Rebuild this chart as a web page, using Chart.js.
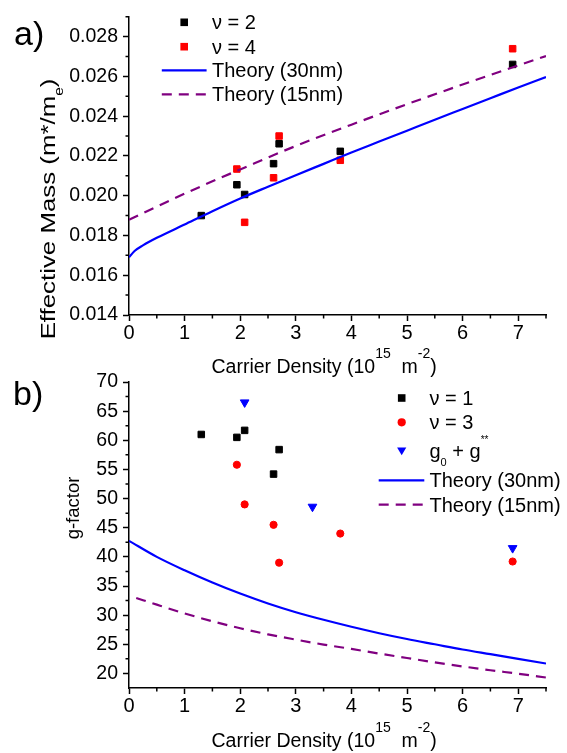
<!doctype html>
<html>
<head>
<meta charset="utf-8">
<style>
* {
    box-sizing: border-box;
    margin: 0;
    padding: 0;
}
body {
    width: 567px;
    height: 753px;
    background: #fff;
    position: relative;
    overflow: hidden;
}
canvas {
    position: absolute;
    left: 0;
}
#chart_a { top: 0; }
#chart_b { top: 365px; }
</style>
</head>
<body>
<canvas id="chart_a" width="567" height="385"></canvas>
<canvas id="chart_b" width="567" height="388"></canvas>
<script src="https://cdn.jsdelivr.net/npm/chart.js"></script>
<script>

// axis ticks
let x_ticks = [0, 1, 2, 3, 4, 5, 6, 7]
let x_minor = [0.5, 1.5, 2.5, 3.5, 4.5, 5.5, 6.5, 7.5]
let mass_ticks = [0.014, 0.016, 0.018, 0.020, 0.022, 0.024, 0.026, 0.028]
let mass_minor = [0.015, 0.017, 0.019, 0.021, 0.023, 0.025, 0.027, 0.029]
let g_ticks = [20, 25, 30, 35, 40, 45, 50, 55, 60, 65, 70]
let g_minor = [22.5, 27.5, 32.5, 37.5, 42.5, 47.5, 52.5, 57.5, 62.5, 67.5]

// a) effective mass
let density_nu2 = [1.3, 1.94, 2.08, 2.6, 2.7, 3.8, 6.9]
let mass_nu2 = [0.0190, 0.02055, 0.02006, 0.02161, 0.02261, 0.02223, 0.0266]
let density_nu4 = [1.94, 2.08, 2.6, 2.7, 3.8, 6.9]
let mass_nu4 = [0.02134, 0.01866, 0.0209, 0.0230, 0.02178, 0.02739]
let density_mass30 = [0, 0.1, 0.25, 0.5, 1, 1.5, 2, 2.5, 3, 3.5, 4, 4.5, 5, 5.5, 6, 6.5, 7, 7.5]
let mass_theory30 = [0.0169, 0.01722, 0.0175, 0.01788, 0.01855, 0.01922, 0.01986, 0.02045, 0.02103, 0.0216, 0.02217, 0.02272, 0.02327, 0.02382, 0.02436, 0.0249, 0.02544, 0.02597]
let density_mass15 = [0, 0.5, 1, 1.5, 2, 3, 4, 5, 6, 7, 7.5]
let mass_theory15 = [0.01879, 0.01945, 0.0201, 0.02072, 0.02132, 0.0225, 0.02357, 0.0246, 0.02559, 0.02655, 0.02702]

// b) g-factor
let density_nu1 = [1.3, 1.94, 2.08, 2.6, 2.7]
let g_nu1 = [61.0, 60.5, 61.7, 54.2, 58.4]
let density_nu3 = [1.94, 2.08, 2.6, 2.7, 3.8, 6.9]
let g_nu3 = [55.8, 49.0, 45.5, 39.0, 44.0, 39.2]
let density_g0 = [2.08, 3.3, 6.9]
let g_g0 = [66.5, 48.6, 41.5]
let density_g30 = [0, 0.5, 1, 1.5, 2, 2.5, 3, 3.5, 4, 4.5, 5, 5.5, 6, 6.5, 7, 7.5]
let g_theory30 = [42.75, 40.0, 37.7, 35.6, 33.7, 32.0, 30.5, 29.2, 28.0, 26.9, 25.9, 25.0, 24.1, 23.3, 22.5, 21.7]
let density_g15 = [0.13, 0.5, 1, 1.5, 2, 2.5, 3, 3.5, 4, 4.5, 5, 5.5, 6, 6.5, 7, 7.5]
let g_theory15 = [32.95, 31.8, 30.3, 28.95, 27.75, 26.7, 25.8, 24.95, 24.2, 23.4, 22.65, 21.9, 21.2, 20.55, 19.95, 19.3]

let family = 'Arial, "Liberation Sans", sans-serif'
Chart.defaults.font.family = family
Chart.defaults.color = '#000'

let pairs = (xs, ys) => xs.map((x, i) => ({ x: x, y: ys[i] }))

function points(label, xs, ys, style, color, radius) {
    return {
        label: label,
        data: pairs(xs, ys),
        pointStyle: style,
        pointRadius: radius,
        pointRotation: style === 'triangle' ? 180 : 0,
        backgroundColor: color,
        borderColor: color,
        borderWidth: 1,
        showLine: false,
        order: 1,
    }
}

function theory(label, xs, ys, color, dash) {
    return {
        label: label,
        data: pairs(xs, ys),
        showLine: true,
        borderColor: color,
        backgroundColor: color,
        borderWidth: 2.2,
        borderDash: dash,
        pointRadius: 0,
        cubicInterpolationMode: 'monotone',
        order: 0,
    }
}

function drawRich(ctx, parts, x, y, size, align) {
    let sizes = parts.map(p => p[2] ? size * p[2] : p[1] ? size * 0.72 : size)
    let widths = parts.map((p, i) => {
        ctx.font = sizes[i] + 'px ' + family
        return ctx.measureText(p[0]).width
    })
    let total = widths.reduce((a, b) => a + b, 0)
    let cx = align === 'center' ? x - total / 2 : x
    parts.forEach((p, i) => {
        ctx.font = sizes[i] + 'px ' + family
        let dy = p[1] === 'sup' ? -0.75 * size : p[1] === 'sub' ? 0.4 * size : 0
        ctx.fillText(p[0], cx, y + dy)
        cx += widths[i]
    })
}

function drawMarker(ctx, style, color, x, y) {
    ctx.fillStyle = color
    ctx.beginPath()
    if (style === 'rect') {
        ctx.rect(x - 3.8, y - 3.8, 7.6, 7.6)
    } else if (style === 'circle') {
        ctx.arc(x, y, 4.1, 0, Math.PI * 2)
    } else {
        ctx.moveTo(x - 4.6, y - 3.4)
        ctx.lineTo(x + 4.6, y - 3.4)
        ctx.lineTo(x, y + 4.2)
        ctx.closePath()
    }
    ctx.fill()
}

function makeDecor(cfg) {
    return {
        id: 'decor',
        afterDraw(chart) {
            let ctx = chart.ctx
            let sx = chart.scales.x
            let sy = chart.scales.y
            let area = chart.chartArea
            ctx.save()
            ctx.strokeStyle = '#000'
            ctx.lineWidth = 1.5
            ctx.beginPath()
            cfg.xMinor.forEach(v => {
                let px = sx.getPixelForValue(v)
                ctx.moveTo(px, area.bottom)
                ctx.lineTo(px, area.bottom + 3.5)
            })
            cfg.yMinor.forEach(v => {
                let py = sy.getPixelForValue(v)
                ctx.moveTo(area.left, py)
                ctx.lineTo(area.left - 3.5, py)
            })
            ctx.stroke()

            ctx.fillStyle = '#000'
            ctx.textAlign = 'left'
            ctx.textBaseline = 'alphabetic'
            drawRich(ctx, cfg.xTitle, cfg.xTitleX, cfg.xTitleY, 19.5)

            ctx.save()
            ctx.translate(cfg.yTitleX, cfg.yTitleY)
            ctx.rotate(-Math.PI / 2)
            ctx.scale(cfg.yTitleStretch, 1)
            drawRich(ctx, cfg.yTitle, 0, 0, cfg.yTitleSize, 'center')
            ctx.restore()

            ctx.font = '34px ' + family
            ctx.fillText(cfg.panel, cfg.panelX, cfg.panelY)

            chart.data.datasets.forEach((ds, i) => {
                let ry = cfg.legendRows[i]
                if (ds.showLine) {
                    ctx.save()
                    ctx.strokeStyle = ds.borderColor
                    ctx.lineWidth = ds.borderWidth
                    ctx.setLineDash(ds.borderDash || [])
                    ctx.beginPath()
                    ctx.moveTo(cfg.legendLine[0], ry)
                    ctx.lineTo(cfg.legendLine[1], ry)
                    ctx.stroke()
                    ctx.restore()
                } else {
                    drawMarker(ctx, ds.pointStyle, ds.backgroundColor, cfg.legendMarker, ry)
                }
                ctx.fillStyle = '#000'
                drawRich(ctx, ds.richLabel || [[ds.label]], cfg.legendText, ry + 7, 20)
            })
            ctx.restore()
        },
    }
}

function makeOptions(yMin, yMax, yTicks, yFormat, top, xHeight) {
    let axis = {
        border: { color: '#000', width: 1.5 },
        grid: { drawOnChartArea: false, tickLength: 6, tickWidth: 1.5, tickColor: '#000' },
    }
    return {
        responsive: false,
        animation: false,
        layout: { padding: { top: top, right: 21, left: 0, bottom: 0 } },
        scales: {
            x: {
                ...axis,
                type: 'linear',
                min: 0,
                max: 7.5,
                ticks: { font: { size: 20 }, padding: 0, autoSkip: false, maxRotation: 0 },
                afterBuildTicks: s => { s.ticks = x_ticks.map(v => ({ value: v })) },
                afterFit: s => { s.height = xHeight },
            },
            y: {
                ...axis,
                type: 'linear',
                min: yMin,
                max: yMax,
                ticks: { font: { size: 19.5 }, padding: 5, autoSkip: false, callback: yFormat },
                afterBuildTicks: s => { s.ticks = yTicks.map(v => ({ value: v })) },
                afterFit: s => { s.width = 129 },
            },
        },
        plugins: {
            legend: { display: false },
            tooltip: { enabled: false },
        },
    }
}

let chart_a = new Chart(document.getElementById('chart_a'), {
    type: 'scatter',
    data: {
        datasets: [
            points('ν = 2', density_nu2, mass_nu2, 'rect', '#000000', 4.6),
            points('ν = 4', density_nu4, mass_nu4, 'rect', '#ff0000', 4.6),
            theory('Theory (30nm)', density_mass30, mass_theory30, '#0000ff', []),
            theory('Theory (15nm)', density_mass15, mass_theory15, '#800080', [10, 7]),
        ],
    },
    options: makeOptions(0.014, 0.029, mass_ticks, v => v.toFixed(3), 8, 70),
    plugins: [makeDecor({
        xMinor: x_minor,
        yMinor: mass_minor,
        xTitle: [['Carrier Density (10'], ['15', 'sup'], ['  m'], ['-2', 'sup'], [')']],
        xTitleX: 211.5,
        xTitleY: 373,
        yTitle: [['Effective Mass (m*/m'], ['e', 'sub', 0.6], [')']],
        yTitleX: 55,
        yTitleY: 209,
        yTitleSize: 21,
        yTitleStretch: 1.23,
        panel: 'a)',
        panelX: 14,
        panelY: 45,
        legendRows: [22.3, 46.7, 70.3, 94.3],
        legendMarker: 184.2,
        legendLine: [161.8, 206.6],
        legendText: 212,
    })],
})

let g0_set = points('g0 + g**', density_g0, g_g0, 'triangle', '#0000ff', 5)
g0_set.richLabel = [['g'], ['0', 'sub', 0.55], [' + g'], ['**', 'sup', 0.5]]

let chart_b = new Chart(document.getElementById('chart_b'), {
    type: 'scatter',
    data: {
        datasets: [
            points('ν = 1', density_nu1, g_nu1, 'rect', '#000000', 4.6),
            points('ν = 3', density_nu3, g_nu3, 'circle', '#ff0000', 3.6),
            g0_set,
            theory('Theory (30nm)', density_g30, g_theory30, '#0000ff', []),
            theory('Theory (15nm)', density_g15, g_theory15, '#800080', [10, 7]),
        ],
    },
    options: makeOptions(17.5, 70, g_ticks, v => v, 17, 65),
    plugins: [makeDecor({
        xMinor: x_minor,
        yMinor: g_minor,
        xTitle: [['Carrier Density (10'], ['15', 'sup'], ['  m'], ['-2', 'sup'], [')']],
        xTitleX: 211.5,
        xTitleY: 382,
        yTitle: [['g-factor']],
        yTitleX: 79,
        yTitleY: 143,
        yTitleSize: 18.5,
        yTitleStretch: 1,
        panel: 'b)',
        panelX: 13,
        panelY: 40,
        legendRows: [33, 57.3, 86, 115.3, 139.7],
        legendMarker: 401.7,
        legendLine: [378.7, 424.3],
        legendText: 429.5,
    })],
})

</script>
</body>
</html>
